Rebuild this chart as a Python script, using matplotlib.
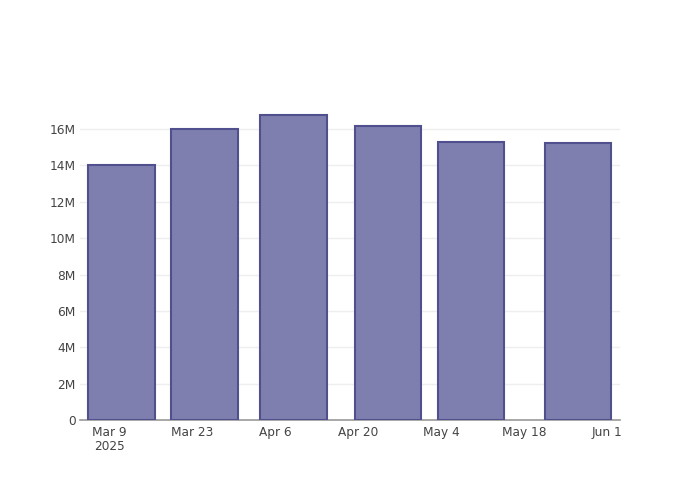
import numpy as np
import pandas as pd
import matplotlib
matplotlib.use("Agg")
import matplotlib.pyplot as plt
import matplotlib.dates as mdates
from matplotlib.ticker import FuncFormatter, MultipleLocator

# bar data
dates = pd.to_datetime(["2025-03-11", "2025-03-25", "2025-04-09",
                        "2025-04-25", "2025-05-09", "2025-05-27"])
values = [14.05e6, 16.03e6, 16.75e6, 16.18e6, 15.30e6, 15.26e6]

tick_dates = pd.to_datetime(["2025-03-09", "2025-03-23", "2025-04-06", "2025-04-20",
                             "2025-05-04", "2025-05-18", "2025-06-01"])
tick_labels = ["Mar 9\n2025", "Mar 23", "Apr 6", "Apr 20", "May 4", "May 18", "Jun 1"]

plt.rcParams['font.family'] = ['DejaVu Sans']
text_color = '#444444'

fig = plt.figure(figsize=(7, 5), dpi=100)
ax = fig.add_axes([80 / 700, 80 / 500, 540 / 700, 320 / 500])

# bar width = 0.8 of the smallest gap, like plotly does
width = 0.8 * np.diff(mdates.date2num(dates)).min()
ax.bar(dates, values, width=width, color='#7f7faf', edgecolor='#50508f',
       linewidth=1.5, zorder=3)

ax.set_xlim(pd.Timestamp("2025-03-04"), pd.Timestamp("2025-06-03 03:00"))
ax.set_ylim(0, 17.6e6)

ax.yaxis.set_major_locator(MultipleLocator(2e6))
ax.yaxis.set_major_formatter(FuncFormatter(lambda v, p: "0" if v == 0 else f"{v / 1e6:.0f}M"))
ax.set_xticks(tick_dates)
ax.set_xticklabels(tick_labels, linespacing=1.15)

ax.grid(axis='y', color='#eeeeee', linewidth=1, zorder=0)
ax.set_axisbelow(True)
for s in ['top', 'right', 'left']:
    ax.spines[s].set_visible(False)
ax.spines['bottom'].set_color('#999999')
ax.spines['bottom'].set_linewidth(1.2)

ax.tick_params(axis='x', length=0, pad=4, labelsize=8.7, labelcolor=text_color)
ax.tick_params(axis='y', length=0, pad=3, labelsize=8.7, labelcolor=text_color)

fig.savefig("out.png", dpi=100)
